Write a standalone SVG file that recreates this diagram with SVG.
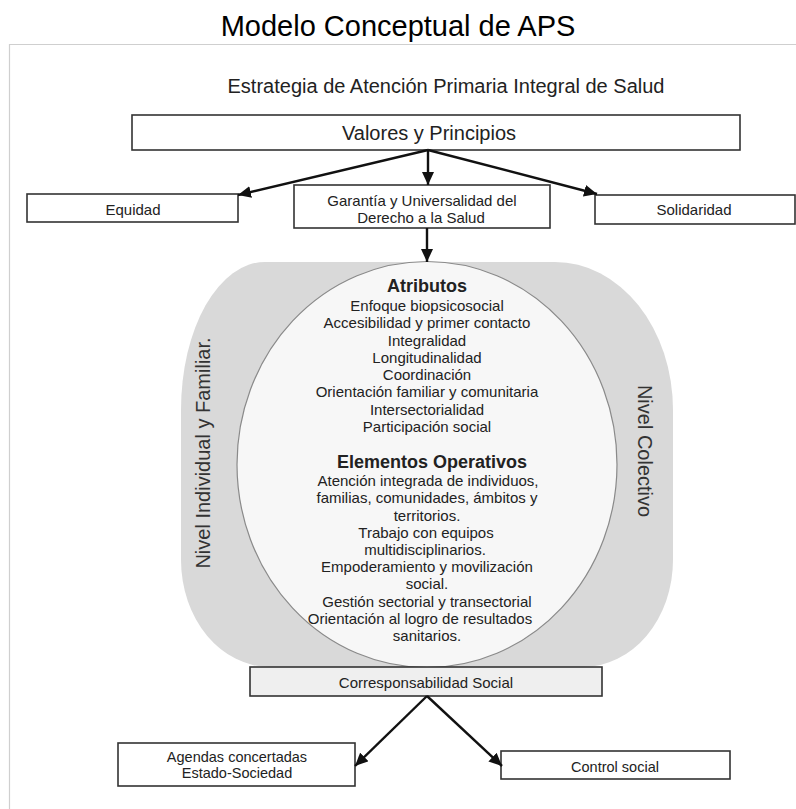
<svg xmlns="http://www.w3.org/2000/svg" width="796" height="809" viewBox="0 0 796 809">
<defs>
<marker id="ah" markerUnits="userSpaceOnUse" markerWidth="14" markerHeight="12" refX="13" refY="6" orient="auto">
<path d="M0,0 L13,6 L0,12 z" fill="#111"/>
</marker>
<style>
text{font-family:"Liberation Sans",Arial,sans-serif;fill:#222;text-anchor:middle}
.box{fill:#fff;stroke:#333;stroke-width:1.6}
.t15{font-size:15px}
.c{font-size:15px}
.b{font-size:18px;font-weight:bold}
.conn{stroke:#111;stroke-width:2.4;fill:none;marker-end:url(#ah)}
</style>
</defs>
<rect width="796" height="809" fill="#fff"/>
<path d="M9.5,809 V44.5 H796" fill="none" stroke="#cfcfcf" stroke-width="1.2"/>
<text x="398" y="36" style="font-size:29px;fill:#000">Modelo Conceptual de APS</text>
<text x="446" y="93" style="font-size:20px">Estrategia de Atención Primaria Integral de Salud</text>

<g id="valores"><rect class="box" x="132" y="115" width="608" height="35"/><text x="429" y="140" style="font-size:20px">Valores y Principios</text></g>
<g id="equidad"><rect class="box" x="27" y="194" width="211" height="28"/><text class="t15" x="133" y="215">Equidad</text></g>
<g id="garantia"><rect class="box" x="294" y="185" width="256" height="43"/><text class="t15" x="422" y="206">Garantía y Universalidad del</text><text class="t15" x="421" y="223">Derecho a la Salud</text></g>
<g id="solidaridad"><rect class="box" x="595" y="195" width="200" height="29"/><text class="t15" x="694" y="215">Solidaridad</text></g>

<g id="niveles">
<path d="M181,410 A84,148 0 0 1 265,262 H555 A118,148 0 0 1 673,410 V560 A90,107 0 0 1 583,667 H270 A89,107 0 0 1 181,560 Z" fill="#d9d9d9"/>
<text transform="translate(210,453) rotate(-90)" style="font-size:20px;fill:#333">Nivel Individual y Familiar.</text>
<text transform="translate(638,451) rotate(90)" style="font-size:20px;fill:#333">Nivel Colectivo</text>
</g>

<g id="circulo">
<ellipse cx="427" cy="464.5" rx="190" ry="203" fill="#f7f7f7" stroke="#8a8a8a" stroke-width="1.2"/>
<text class="b" x="427" y="292">Atributos</text>
<text class="c" x="427" y="310.5">Enfoque biopsicosocial</text>
<text class="c" x="427" y="328">Accesibilidad y primer contacto</text>
<text class="c" x="427" y="345.5">Integralidad</text>
<text class="c" x="427" y="362.7">Longitudinalidad</text>
<text class="c" x="427" y="380">Coordinación</text>
<text class="c" x="427" y="397.3">Orientación familiar y comunitaria</text>
<text class="c" x="427" y="414.7">Intersectorialidad</text>
<text class="c" x="427" y="431.7">Participación social</text>
<text class="b" x="432" y="468.3">Elementos Operativos</text>
<text class="c" x="428" y="486">Atención integrada de individuos,</text>
<text class="c" x="427" y="503.3">familias, comunidades, ámbitos y</text>
<text class="c" x="427" y="520.7">territorios.</text>
<text class="c" x="426" y="537.7">Trabajo con equipos</text>
<text class="c" x="425" y="555">multidisciplinarios.</text>
<text class="c" x="427" y="572.3">Empoderamiento y movilización</text>
<text class="c" x="427" y="589.3">social.</text>
<text class="c" x="427" y="606.7">Gestión sectorial y transectorial</text>
<text class="c" x="420" y="624">Orientación al logro de resultados</text>
<text class="c" x="427" y="641.3">sanitarios.</text>
</g>

<g id="corresponsabilidad"><rect x="250" y="667" width="352" height="29" fill="#efefef" stroke="#333" stroke-width="1.6"/><text class="t15" x="426" y="688">Corresponsabilidad Social</text></g>
<g id="agendas"><rect class="box" x="118" y="743" width="237" height="43"/><text x="237" y="762" style="font-size:14.5px">Agendas concertadas</text><text x="237" y="778" style="font-size:14.5px">Estado-Sociedad</text></g>
<g id="control"><rect class="box" x="501" y="751" width="229" height="28"/><text x="615" y="772" style="font-size:14.5px">Control social</text></g>

<g id="connectors">
<line class="conn" x1="428" y1="150" x2="238" y2="195"/>
<line class="conn" x1="428" y1="150" x2="428" y2="185"/>
<line class="conn" x1="428" y1="150" x2="597" y2="194"/>
<line class="conn" x1="427" y1="228" x2="427" y2="262"/>
<line class="conn" x1="427" y1="696" x2="355" y2="766"/>
<line class="conn" x1="427" y1="696" x2="502" y2="766"/>
</g>
</svg>
